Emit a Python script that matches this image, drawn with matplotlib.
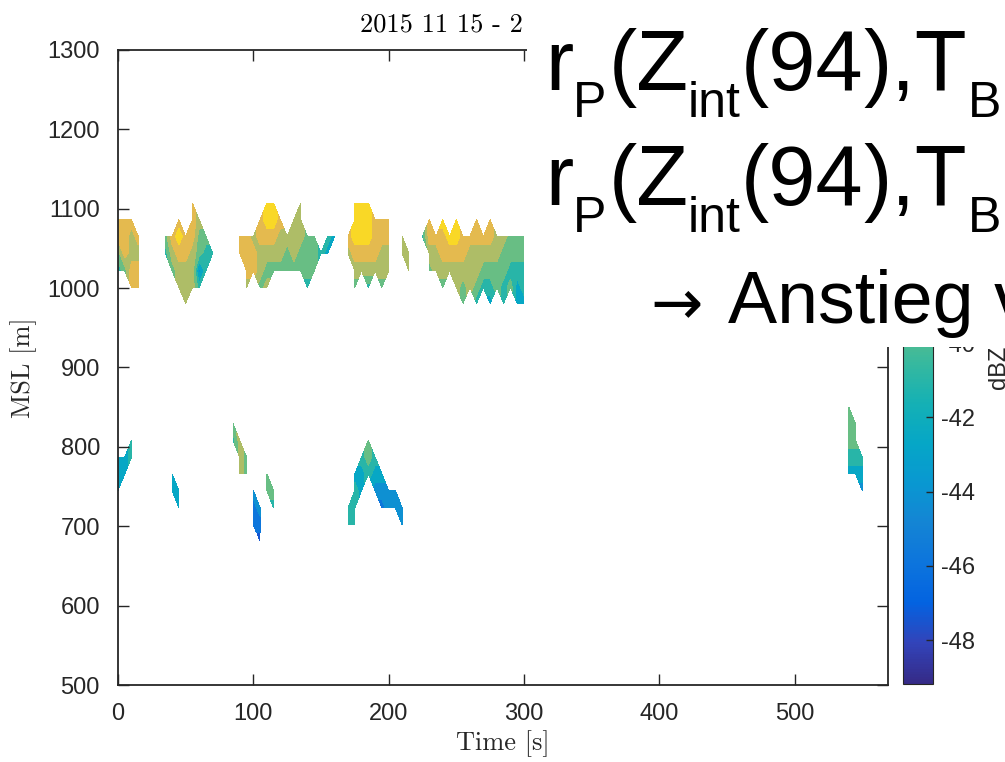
import numpy as np
import matplotlib
matplotlib.use('Agg')
import matplotlib.pyplot as plt
from matplotlib.colors import LinearSegmentedColormap, Normalize
from matplotlib.patches import Rectangle
import matplotlib.cm as cm

plt.rcParams['font.family'] = ['Liberation Sans', 'DejaVu Sans']
plt.rcParams['axes.unicode_minus'] = False

# range gates [m], bottom gate first
upper_heights = [981, 1001, 1022, 1044, 1065, 1086, 1107]
lower_heights = [681, 702, 723, 745, 766, 787, 808, 829, 850]
upper_times = list(range(0, 305, 5))
lower_times = list(range(0, 555, 5))

# reflectivity [dBZ] for code digits 0..9, '.' = no echo
code_dbz = [-49.0, -47.4, -45.8, -44.2, -42.6, -41.0, -39.4, -37.6, -35.6, -34.3]

# time [s] -> codes of one profile, bottom gate first
upper_cols = {
    0: "..5688.", 5: "..6888.", 10: ".88778.", 15: ".8878..",
    35: "...56..", 40: "..678..", 45: ".77898.", 50: "77788..", 55: ".777888",
    60: ".53667.", 65: "..556..", 70: "...5...",
    90: "...88..", 95: "77888..", 100: "..887..", 105: ".67788.", 110: ".767899",
    115: "..67899", 120: "..6778.", 125: "..667..", 130: "..6777.", 135: "..66777",
    140: ".5666..", 145: "..666..", 150: "...5...",
    155: "...45..", 160: "....4..",
    170: "...78..", 175: ".678999", 180: "..78999", 185: ".578999", 190: "..7888.",
    195: ".67788.", 200: "..7788.",
    210: "...77..", 215: "..77...",
    225: "....5..", 230: "..6788.", 235: "..778..", 240: "667889.", 245: "..789..",
    250: ".77899.", 255: "66788..", 260: ".7778..", 265: "567788.", 270: ".5678..",
    275: "456788.", 280: ".6677..", 285: "55667..", 290: ".6566..", 295: "44566..",
    300: "45566..",
}
lower_cols = {
    0: "...444...", 5: "....44...", 10: ".....55..",
    40: "...44....", 45: "..44.....",
    85: "......56.", 90: "....777..", 95: "....66...",
    100: ".223.....", 105: "123......",
    110: "...66....", 115: "..56.....",
    170: ".55......", 175: ".5554....", 180: "...445...", 185: "....5665.",
    190: "...345...", 195: "..234....", 200: "..33.....", 205: "..33.....",
    210: ".33......",
    540: "....45666", 545: "....4566.", 550: "...345...",
}

# MATLAB parula
parula = LinearSegmentedColormap.from_list('parula', [
    (0 / 63, (0.2081, 0.1663, 0.5292)), (4 / 63, (0.1959, 0.2645, 0.7279)),
    (8 / 63, (0.0117, 0.3875, 0.8820)), (12 / 63, (0.0498, 0.4586, 0.8641)),
    (16 / 63, (0.0793, 0.5200, 0.8312)), (20 / 63, (0.0343, 0.5966, 0.8199)),
    (24 / 63, (0.0228, 0.6535, 0.7768)), (28 / 63, (0.0843, 0.6928, 0.7062)),
    (32 / 63, (0.2178, 0.7250, 0.6193)), (36 / 63, (0.3953, 0.7459, 0.5244)),
    (40 / 63, (0.5709, 0.7485, 0.4494)), (44 / 63, (0.7184, 0.7411, 0.3905)),
    (48 / 63, (0.8507, 0.7299, 0.3360)), (52 / 63, (0.9739, 0.7314, 0.2666)),
    (56 / 63, (0.9880, 0.8066, 0.1794)), (60 / 63, (0.9589, 0.8949, 0.1132)),
    (63 / 63, (0.9763, 0.9831, 0.0538))])
norm = Normalize(-49.18, -32.1)
mids = [(a + b) / 2 for a, b in zip(code_dbz[:-1], code_dbz[1:])]
levels = [norm.vmin] + mids + [norm.vmax]


def to_grid(cols, times, nrows):
    z = np.full((nrows, len(times)), np.nan)
    for j, t in enumerate(times):
        for i, c in enumerate(cols.get(t, '')):
            if c != '.':
                z[i, j] = code_dbz[int(c)]
    return np.ma.masked_invalid(z)


W, H = 1005, 762
fig = plt.figure(figsize=(W / 100, H / 100), dpi=100)
ax = fig.add_axes([118 / W, 77 / H, 770 / W, 635 / H])
dark = '#262626'

ax.contourf(upper_times, upper_heights, to_grid(upper_cols, upper_times, len(upper_heights)),
            levels=levels, cmap=parula, norm=norm)
ax.contourf(lower_times, lower_heights, to_grid(lower_cols, lower_times, len(lower_heights)),
            levels=levels, cmap=parula, norm=norm)

ax.set_xlim(0, 569)
ax.set_ylim(500, 1300)
ax.set_xticks([0, 100, 200, 300, 400, 500])
ax.set_yticks(range(500, 1301, 100))
ax.tick_params(direction='in', length=8, width=1, top=True, right=True,
               labelsize=17, pad=13, color=dark, labelcolor=dark)
for s in ax.spines.values():
    s.set_linewidth(1.3)
    s.set_color(dark)
ax.set_xlabel('Time [s]', fontfamily='cmr10', fontsize=19, color=dark)
ax.set_ylabel('MSL [m]', fontfamily='cmr10', fontsize=19, color=dark)
ax.xaxis.set_label_coords(0.5, -0.072)
ax.yaxis.set_label_coords(-0.105, 0.5)
fig.text(360 / W, 1 - 32 / H, '2015 11 15 - 2', fontfamily='cmr10', fontsize=19,
         color='black', va='baseline')

cax = fig.add_axes([903 / W, 78 / H, 30 / W, 634 / H])
cb = fig.colorbar(cm.ScalarMappable(norm=norm, cmap=parula), cax=cax)
cb.set_ticks([-48, -46, -44, -42, -40])
cax.tick_params(direction='in', length=5, width=1, labelsize=17, pad=6,
                color=dark, labelcolor=dark)
cb.outline.set_linewidth(0.8)
cb.outline.set_edgecolor(dark)
cb.set_label('dBZ', fontsize=17, color=dark)
cax.yaxis.set_label_coords(2.83, 0.5)

# white text box of the slide on top of the figure
fig.add_artist(Rectangle((527 / W, 1 - 347 / H), 1 - 527 / W, 347 / H,
                         transform=fig.transFigure, facecolor='white',
                         edgecolor='none', zorder=10))

big, sub = 61, 36
runs = [("r", 545, 0, big), ("P", 573, 27, sub), ("(Z", 609, 0, big),
        ("int", 688, 27, sub), ("(94", 741, 0, big), ("),T", 863, 0, big),
        ("B", 968, 27, sub)]
for base in (90, 205):
    for s, x, dy, size in runs:
        fig.text(x / W, 1 - (base + dy) / H, s, fontsize=size, va='baseline',
                 ha='left', zorder=11)
fig.text(650 / W, 1 - 323 / H, '\u2192', fontfamily='DejaVu Sans', fontsize=45,
         va='baseline', ha='left', zorder=11)
fig.text(728 / W, 1 - 323 / H, 'Anstieg v', fontsize=53, va='baseline', ha='left',
         zorder=11)

fig.savefig('out.png', dpi=100)
